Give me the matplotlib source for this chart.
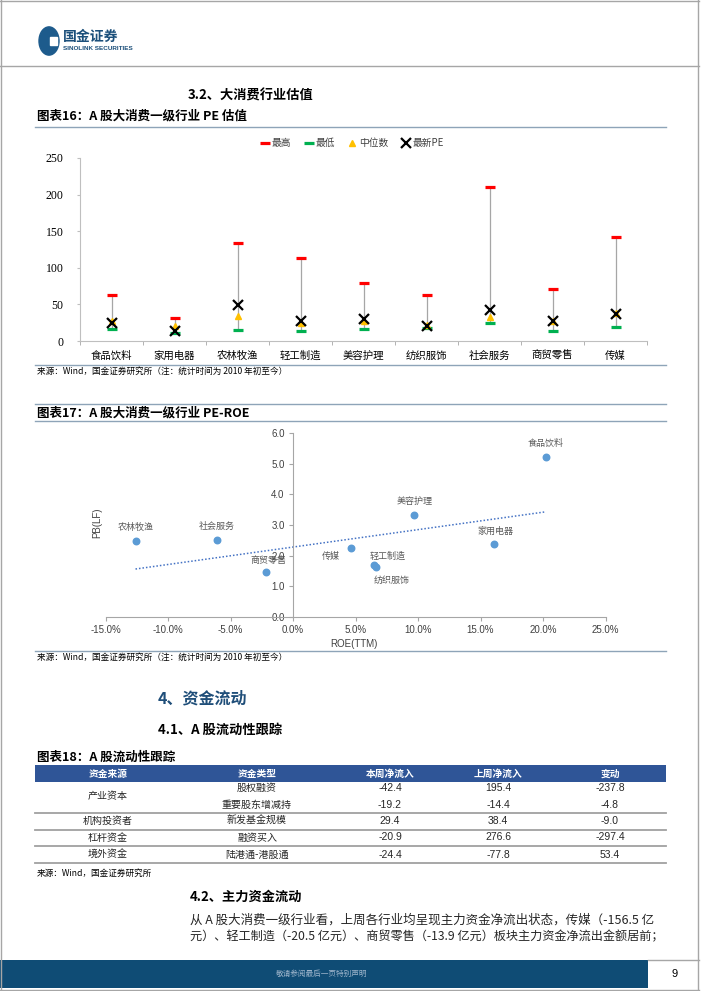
import numpy as np
import matplotlib
matplotlib.use('Agg')
import matplotlib.pyplot as plt
from matplotlib.lines import Line2D
from matplotlib.patches import Rectangle, Circle

plt.rcParams['font.family'] = ['Noto Sans CJK SC', 'DejaVu Sans']
plt.rcParams['axes.unicode_minus'] = False

# chart 16: PE valuation
categories = ['食品饮料', '家用电器', '农林牧渔', '轻工制造', '美容护理', '纺织服饰', '社会服务', '商贸零售', '传媒']
pe_max = [63, 32, 134, 114, 79, 63, 210, 71, 142]
pe_min = [17, 11.5, 15, 14, 17, 18, 25, 13, 19]
pe_median = [27, 21, 34, 24, 28, 22, 33, 27, 38]
pe_latest = [25, 14, 49, 27, 29.5, 20.5, 43, 27.5, 37.5]

# chart 17: PB vs ROE
pb_names = ['农林牧渔', '社会服务', '商贸零售', '传媒', '轻工制造', '纺织服饰', '美容护理', '家用电器', '食品饮料']
roe = [-12.6, -6.1, -2.2, 4.6, 6.5, 6.6, 9.7, 16.1, 20.2]
pb = [2.47, 2.51, 1.48, 2.26, 1.69, 1.62, 3.34, 2.37, 5.22]

# table 18: liquidity
tbl_header = ['资金来源', '资金类型', '本周净流入', '上周净流入', '变动']
tbl_source = ['产业资本', '机构投资者', '杠杆资金', '境外资金']
tbl_type = ['股权融资', '重要股东增减持', '新发基金规模', '融资买入', '陆港通-港股通']
this_week = [-42.4, -19.2, 29.4, -20.9, -24.4]
last_week = [195.4, -14.4, 38.4, 276.6, -77.8]
change = [-237.8, -4.8, -9.0, -297.4, 53.4]

W, H = 702, 991
fig = plt.figure(figsize=(W / 100, H / 100), dpi=100)


def fx(x):
    return x / W


def fy(y):
    return 1 - y / H


def ftext(x, y, s, **kw):
    kw.setdefault('va', 'center')
    return fig.text(fx(x), fy(y), s, **kw)


def hline(y, x0, x1, **kw):
    fig.add_artist(Line2D([fx(x0), fx(x1)], [fy(y), fy(y)], transform=fig.transFigure, **kw))


def vline(x, y0, y1, **kw):
    fig.add_artist(Line2D([fx(x), fx(x)], [fy(y0), fy(y1)], transform=fig.transFigure, **kw))


# ---- page frame + header
border = '#a6a6a6'
hline(1, 0, 699, color=border, lw=1)
vline(1, 0, 991, color=border, lw=1)
vline(698, 0, 991, color=border, lw=1)
hline(66, 0, 699, color=border, lw=1)

logo_blue = '#1b4f7a'
fig.add_artist(Circle((fx(49), fy(41)), 10 / W, transform=fig.transFigure, color='#1d5b8c'))
fig.add_artist(Rectangle((fx(50), fy(45)), 7 / W, 8 / H, transform=fig.transFigure, color='white'))
ftext(63, 37, '国金证券', fontsize=10, fontweight='bold', color=logo_blue)
ftext(63, 48, 'SINOLINK SECURITIES', fontsize=4.6, fontweight='bold', color=logo_blue,
      family=['Liberation Sans', 'DejaVu Sans'])

title_line = '#8ea4b8'
ftext(188, 96, '3.2、大消费行业估值', fontsize=9.5, fontweight='bold')
ftext(37, 116, '图表16：A 股大消费一级行业 PE 估值', fontsize=9, fontweight='bold')
hline(127, 35, 666, color=title_line, lw=1)

# ---- chart 16
ax = fig.add_axes([fx(80), fy(341), (647 - 80) / W, (341 - 158) / H])
x = np.arange(len(categories))
ax.vlines(x, pe_min, pe_max, color='#a6a6a6', lw=0.9, zorder=1)
ax.plot(x, pe_max, ls='none', marker='_', ms=7.5, mew=2.3, color='#ff0000', zorder=3, label='最高')
ax.plot(x, pe_min, ls='none', marker='_', ms=7.5, mew=2.3, color='#00b050', zorder=3, label='最低')
ax.plot(x, pe_median, ls='none', marker='^', ms=5, color='#ffc000', zorder=4, label='中位数')
ax.plot(x, pe_latest, ls='none', marker='x', ms=7, mew=1.6, color='black', zorder=5, label='最新PE')
ax.set_xlim(-0.5, len(categories) - 0.5)
ax.set_ylim(0, 250)
ax.set_yticks(range(0, 251, 50))
ax.set_yticklabels([str(v) for v in range(0, 251, 50)], family=['Liberation Serif'], fontsize=8.5)
ax.set_xticks(x)
ax.set_xticklabels(categories, fontsize=7.5)
for lab in ax.get_xticklabels():
    lab.set_va('baseline')
ax.set_xticks(np.arange(-0.5, len(categories)), minor=True)
ax.tick_params(axis='x', which='major', length=0, pad=13)
ax.tick_params(axis='x', which='minor', length=3, color='#a6a6a6')
ax.tick_params(axis='y', length=2, color='#bfbfbf', pad=10)
for s in ['top', 'right']:
    ax.spines[s].set_visible(False)
for s in ['left', 'bottom']:
    ax.spines[s].set_color('#bfbfbf')
fig.legend(*ax.get_legend_handles_labels(), loc='center', bbox_to_anchor=(fx(352), fy(143)),
           ncol=4, frameon=False, fontsize=7, handlelength=1.0, handletextpad=0.2,
           columnspacing=1.3, labelcolor='#404040')

hline(365, 35, 666, color=title_line, lw=1)
ftext(37, 371, '来源：Wind，国金证券研究所（注：统计时间为 2010 年初至今）', fontsize=6.2)

# ---- chart 17
ftext(37, 413, '图表17：A 股大消费一级行业 PE-ROE', fontsize=9, fontweight='bold')
hline(404, 35, 666, color=title_line, lw=1)
hline(421, 35, 666, color=title_line, lw=1)

ax2 = fig.add_axes([fx(105.5), fy(617), (605.5 - 105.5) / W, (617 - 433) / H])
ax2.set_xlim(-15, 25)
ax2.set_ylim(0, 6)
ax2.scatter(roe, pb, s=22, color='#5b9bd5', zorder=3)
k, b = np.polyfit(roe, pb, 1)
xs = np.array([min(roe), max(roe)])
ax2.plot(xs, k * xs + b, ls=(0, (1, 1.3)), color='#4472c4', lw=1.1, zorder=2)
label_off = {'农林牧渔': (0, 0.45), '社会服务': (0, 0.43), '商贸零售': (0.2, 0.37),
             '传媒': (-1.6, -0.28), '轻工制造': (1.1, 0.29), '纺织服饰': (1.3, -0.42),
             '美容护理': (0, 0.42), '家用电器': (0.1, 0.42), '食品饮料': (0, 0.43)}
for n, r, p in zip(pb_names, roe, pb):
    dx, dy = label_off[n]
    ax2.text(r + dx, p + dy, n, fontsize=6.5, color='#595959', ha='center', va='center')
ax2.spines['left'].set_position(('data', 0))
for s in ['top', 'right']:
    ax2.spines[s].set_visible(False)
for s in ['left', 'bottom']:
    ax2.spines[s].set_color('#a6a6a6')
ax2.set_xticks(range(-15, 26, 5))
ax2.set_xticklabels([f'{v:.1f}%' for v in range(-15, 26, 5)], family=['Liberation Sans'],
                    fontsize=7, color='#404040')
ax2.set_yticks(range(0, 7))
ax2.set_yticklabels([f'{v:.1f}' for v in range(0, 7)], family=['Liberation Sans'],
                    fontsize=7, color='#404040')
ax2.tick_params(axis='x', length=3, color='#a6a6a6', pad=3)
ax2.tick_params(axis='y', length=3, color='#a6a6a6', pad=3)
ftext(97, 523, 'PB(LF)', fontsize=7, rotation=90, ha='center', family=['Liberation Sans'], color='#404040')
ftext(354, 644, 'ROE(TTM)', fontsize=7, ha='center', family=['Liberation Sans'], color='#404040')

hline(651, 35, 666, color=title_line, lw=1)
ftext(37, 657, '来源：Wind，国金证券研究所（注：统计时间为 2010 年初至今）', fontsize=6.2)

# ---- section 4
ftext(158, 698, '4、资金流动', fontsize=11.5, fontweight='bold', color='#1f4e79')
ftext(158, 730, '4.1、A 股流动性跟踪', fontsize=9.5, fontweight='bold')
ftext(37, 757, '图表18：A 股流动性跟踪', fontsize=9, fontweight='bold')

# ---- table 18
col_x = [108, 257, 390, 498, 610]
fig.add_artist(Rectangle((fx(35), fy(782)), (666 - 35) / W, 17 / H, transform=fig.transFigure,
                         color='#2f5597', lw=0))
for cx, h in zip(col_x, tbl_header):
    ftext(cx, 773.5, h, fontsize=7, color='white', ha='center', fontweight='bold')
row_y = [788, 805, 821, 837.5, 854.5]
src_y = [796, 821, 837.5, 854.5]
for sy, s in zip(src_y, tbl_source):
    ftext(col_x[0], sy, s, fontsize=7.2, ha='center', color='#262626')
for ry, t, a, l, c in zip(row_y, tbl_type, this_week, last_week, change):
    ftext(col_x[1], ry, t, fontsize=7.2, ha='center', color='#262626')
    for cx, v in zip(col_x[2:], [a, l, c]):
        ftext(cx, ry, f'{v:.1f}', fontsize=7.5, ha='center', family=['Liberation Sans'], color='#262626')
for ly in [813, 829.5, 846, 862.5]:
    hline(ly, 35, 666, color='#a0a0a0', lw=1.3)
ftext(37, 873, '来源：Wind，国金证券研究所', fontsize=6.2)

# ---- section 4.2
ftext(190, 897, '4.2、主力资金流动', fontsize=9.5, fontweight='bold')
ftext(190, 920, '从 A 股大消费一级行业看，上周各行业均呈现主力资金净流出状态，传媒（-156.5 亿',
      fontsize=9.0, color='#262626')
ftext(190, 937, '元）、轻工制造（-20.5 亿元）、商贸零售（-13.9 亿元）板块主力资金净流出金额居前；',
      fontsize=8.75, color='#262626')

# ---- footer
fig.add_artist(Rectangle((0, fy(988)), fx(648), 28 / H, transform=fig.transFigure,
                         color='#0f4c75', lw=0))
hline(960, 648, 699, color=border, lw=1)
hline(990, 0, 699, color=border, lw=1)
ftext(322, 974, '敬请参阅最后一页特别声明', fontsize=5.5, ha='center', color='#9fb6cc')
ftext(675, 974, '9', fontsize=8, ha='center', family=['Liberation Sans'])

fig.savefig('out.png', dpi=100)
